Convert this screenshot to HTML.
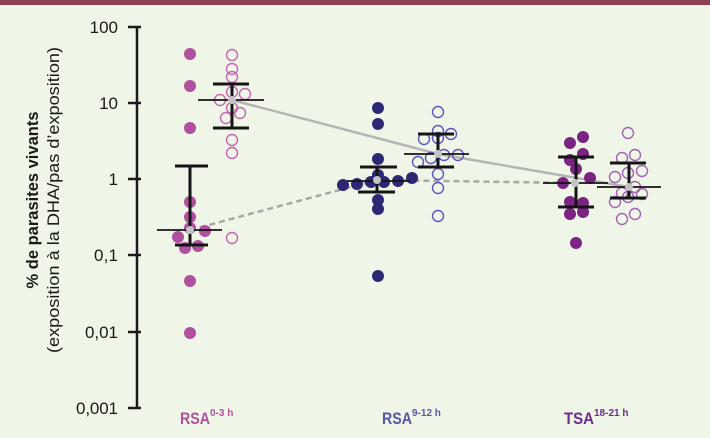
<!DOCTYPE html>
<html><head><meta charset="utf-8"><style>
html,body{margin:0;padding:0;background:#eff6e7;}
svg{display:block;font-family:"Liberation Sans",sans-serif;}
</style></head><body>
<svg width="710" height="438" viewBox="0 0 710 438">
<rect width="710" height="438" fill="#eff6e7"/>
<rect width="710" height="5" fill="#8c4152"/>
<g stroke="#1a1a1a" fill="none">
<line x1="137" y1="26" x2="137" y2="408" stroke-width="2.5"/>
<g stroke-width="2.5">
<line x1="128" y1="27" x2="141" y2="27"/><line x1="128" y1="103" x2="141" y2="103"/>
<line x1="128" y1="179" x2="141" y2="179"/><line x1="128" y1="255" x2="141" y2="255"/>
<line x1="128" y1="332" x2="141" y2="332"/><line x1="128" y1="408" x2="141" y2="408"/>
</g>
</g>
<g id="ticks" stroke="#1a1a1a" stroke-width="1.2"></g>
<g font-size="17" fill="#1a1a1a" text-anchor="end">
<text x="118" y="33">100</text><text x="118" y="109">10</text><text x="118" y="185">1</text>
<text x="118" y="261" textLength="24">0,1</text><text x="118" y="338" textLength="33">0,01</text><text x="118" y="414" textLength="42">0,001</text>
</g>
<g transform="translate(38,200) rotate(-90)" text-anchor="middle" fill="#1a1a1a">
<text x="0" y="0" font-size="17" font-weight="bold" textLength="177" lengthAdjust="spacingAndGlyphs">% de parasites vivants</text>
<text x="0" y="21" font-size="17" textLength="306" lengthAdjust="spacingAndGlyphs">(exposition à la DHA/pas d’exposition)</text>
</g>
<polyline points="232,100 438,154 629,187" fill="none" stroke="#b4b4b4" stroke-width="2.5"/>
<polyline points="190,230 377,180 575,183" fill="none" stroke="#a8a8a8" stroke-width="2.5" stroke-dasharray="6,4"/>
<g fill="#b0509f">
<circle cx="190" cy="54" r="6"/><circle cx="190" cy="86" r="6"/><circle cx="190" cy="128" r="6"/>
<circle cx="190" cy="202" r="6"/><circle cx="190" cy="217" r="6"/><circle cx="190" cy="228" r="6"/>
<circle cx="178" cy="237" r="6"/><circle cx="205" cy="231" r="6"/><circle cx="185" cy="248" r="6"/>
<circle cx="198" cy="246" r="6"/><circle cx="190" cy="281" r="6"/><circle cx="190" cy="333" r="6"/>
</g>
<g fill="none" stroke="#c466b4" stroke-width="1.4">
<circle cx="232" cy="55" r="5.5"/><circle cx="232" cy="69" r="5.5"/><circle cx="232" cy="77" r="5.5"/>
<circle cx="220" cy="100" r="5.5"/><circle cx="232" cy="92" r="5.5"/><circle cx="245" cy="94" r="5.5"/>
<circle cx="232" cy="108" r="5.5"/><circle cx="240" cy="113" r="5.5"/><circle cx="226" cy="118" r="5.5"/>
<circle cx="232" cy="140" r="5.5"/><circle cx="232" cy="153" r="5.5"/><circle cx="232" cy="238" r="5.5"/>
</g>
<g fill="#2c2874">
<circle cx="378" cy="108" r="6"/><circle cx="378" cy="124" r="6"/><circle cx="378" cy="159" r="6"/>
<circle cx="378" cy="175" r="6"/><circle cx="343" cy="185" r="6"/><circle cx="357" cy="184" r="6"/>
<circle cx="371" cy="182" r="6"/><circle cx="384" cy="182" r="6"/><circle cx="398" cy="181" r="6"/>
<circle cx="412" cy="178" r="6"/><circle cx="378" cy="200" r="6"/><circle cx="378" cy="209" r="6"/>
<circle cx="378" cy="276" r="6"/>
</g>
<g fill="none" stroke="#5a58c0" stroke-width="1.4">
<circle cx="438" cy="112" r="5.5"/><circle cx="438" cy="131" r="5.5"/><circle cx="424" cy="139" r="5.5"/>
<circle cx="451" cy="134" r="5.5"/><circle cx="438" cy="138" r="5.5"/><circle cx="418" cy="162" r="5.5"/>
<circle cx="431" cy="158" r="5.5"/><circle cx="444" cy="155" r="5.5"/><circle cx="458" cy="155" r="5.5"/>
<circle cx="438" cy="174" r="5.5"/><circle cx="438" cy="188" r="5.5"/><circle cx="438" cy="216" r="5.5"/>
</g>
<g fill="#7c2484">
<circle cx="583" cy="137" r="6"/><circle cx="570" cy="143" r="6"/><circle cx="583" cy="154" r="6"/>
<circle cx="570" cy="160" r="6"/><circle cx="576" cy="169" r="6"/><circle cx="563" cy="183" r="6"/>
<circle cx="590" cy="178" r="6"/><circle cx="570" cy="202" r="6"/><circle cx="583" cy="203" r="6"/>
<circle cx="570" cy="214" r="6"/><circle cx="583" cy="212" r="6"/><circle cx="576" cy="243" r="6"/>
</g>
<g fill="none" stroke="#a462b4" stroke-width="1.4">
<circle cx="628" cy="133" r="5.5"/><circle cx="635" cy="155" r="5.5"/><circle cx="622" cy="158" r="5.5"/>
<circle cx="642" cy="171" r="5.5"/><circle cx="628" cy="173" r="5.5"/><circle cx="615" cy="177" r="5.5"/>
<circle cx="635" cy="187" r="5.5"/><circle cx="622" cy="193" r="5.5"/><circle cx="642" cy="194" r="5.5"/>
<circle cx="615" cy="202" r="5.5"/><circle cx="628" cy="197" r="5.5"/><circle cx="635" cy="214" r="5.5"/>
<circle cx="622" cy="219" r="5.5"/>
</g>
<g stroke="#151515" fill="none">
<g stroke-width="3">
<line x1="190" y1="166" x2="190" y2="245"/><line x1="175" y1="166" x2="208" y2="166"/><line x1="175" y1="245" x2="208" y2="245"/>
<line x1="232" y1="84" x2="232" y2="128"/><line x1="213" y1="84" x2="249" y2="84"/><line x1="213" y1="128" x2="249" y2="128"/>
<line x1="377" y1="167" x2="377" y2="192"/><line x1="360" y1="167" x2="397" y2="167"/><line x1="358" y1="192" x2="395" y2="192"/>
<line x1="438" y1="134" x2="438" y2="167"/><line x1="418" y1="134" x2="454" y2="134"/><line x1="418" y1="167" x2="454" y2="167"/>
<line x1="576" y1="157" x2="576" y2="207"/><line x1="558" y1="157" x2="594" y2="157"/><line x1="558" y1="207" x2="594" y2="207"/>
<line x1="629" y1="163" x2="629" y2="198"/><line x1="610" y1="163" x2="646" y2="163"/><line x1="610" y1="198" x2="646" y2="198"/>
</g>
<g stroke-width="1.8">
<line x1="157" y1="230" x2="222" y2="230"/><line x1="198" y1="100" x2="264" y2="100"/>
<line x1="347" y1="181" x2="410" y2="181"/><line x1="404" y1="154" x2="469" y2="154"/>
<line x1="543" y1="183" x2="608" y2="183"/><line x1="597" y1="187" x2="661" y2="187"/>
</g>
</g>
<g fill="#c4c4c4">
<circle cx="190" cy="230" r="4"/><circle cx="232" cy="100" r="4"/><circle cx="377" cy="180" r="4"/>
<circle cx="438" cy="154" r="4"/><circle cx="575" cy="183" r="4"/><circle cx="629" cy="187" r="4"/>
</g>
<g font-weight="bold">
<text x="180" y="424" font-size="17" fill="#b0509f"><tspan textLength="30" lengthAdjust="spacingAndGlyphs">RSA</tspan><tspan font-size="10" dy="-8">0-3 h</tspan></text>
<text x="382" y="424" font-size="17" fill="#5856a6"><tspan textLength="30" lengthAdjust="spacingAndGlyphs">RSA</tspan><tspan font-size="10" dy="-8">9-12 h</tspan></text>
<text x="564" y="424" font-size="17" fill="#6c2a90"><tspan textLength="30" lengthAdjust="spacingAndGlyphs">TSA</tspan><tspan font-size="10" dy="-8">18-21 h</tspan></text>
</g>
<script>
(function(){var g=document.getElementById('ticks');var s='';
for(var d=0;d<5;d++){var base=408-76.2*d;for(var k=2;k<10;k++){var y=base-76.2*Math.log10(k);
s+='<line x1="132" y1="'+y.toFixed(1)+'" x2="141" y2="'+y.toFixed(1)+'"/>';}}
g.innerHTML=s;})();
</script>
</svg>
</body></html>
